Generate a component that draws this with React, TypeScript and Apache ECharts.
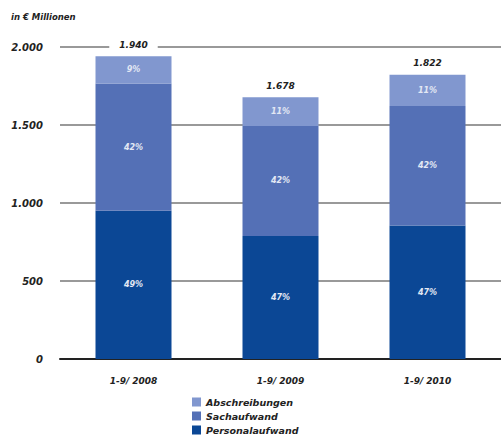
import React, { useEffect, useRef } from "react";
import * as echarts from "echarts";

const categories = ["1-9/ 2008", "1-9/ 2009", "1-9/ 2010"];
const totals = [1940, 1678, 1822];
const personalPct = [49, 47, 47];
const sachPct = [42, 42, 42];
const abschrPct = [9, 11, 11];
const seriesNames = ["Abschreibungen", "Sachaufwand", "Personalaufwand"];
const yTicks = { min: 0, max: 2000, interval: 500 };

const FONT = "'DejaVu Sans', sans-serif";
const colors = { abschr: "#8197cf", sach: "#5470b6", personal: "#0b4795" };

const share = (pct: number[]) => pct.map((p, i) => Math.round((totals[i] * p) / 100));
const personal = share(personalPct);
const sach = share(sachPct);
const abschr = totals.map((t, i) => t - personal[i] - sach[i]);

const fmt = (v: number) => v.toString().replace(/\B(?=(\d{3})+(?!\d))/g, ".");

const bi = {
  fontFamily: FONT,
  fontWeight: "bold" as const,
  fontStyle: "italic" as const,
};

export default function App() {
  const ref = useRef<HTMLDivElement>(null);
  useEffect(() => {
    if (!ref.current) return;
    const chart = echarts.init(ref.current, undefined, { renderer: "svg" });
    const pctLabel = (pct: number[]) => ({
      show: true,
      position: "inside" as const,
      color: "#e3e8f4",
      ...bi,
      fontSize: 8,
      formatter: (p: any) => pct[p.dataIndex] + "%",
    });
    chart.setOption({
      animation: false,
      backgroundColor: "#ffffff",
      graphic: [
        {
          type: "text",
          left: 11,
          top: 12,
          style: {
            text: "in € Millionen",
            ...bi,
            fontSize: 8.5,
            fill: "#222",
          },
        },
      ],
      grid: { left: 60, right: -4, top: 47, bottom: 80, containLabel: false },
      legend: {
        orient: "vertical",
        left: 192,
        top: 396,
        height: 43,
        padding: 0,
        itemWidth: 9,
        itemHeight: 9,
        itemGap: 2,
        icon: "rect",
        data: seriesNames,
        textStyle: {
          ...bi,
          fontSize: 9.5,
          color: "#222",
          lineHeight: 12,
        },
      },
      xAxis: {
        type: "category",
        data: categories,
        axisTick: { show: false },
        axisLine: { lineStyle: { color: "#222", width: 2 } },
        axisLabel: {
          margin: 17,
          ...bi,
          fontSize: 9,
          color: "#222",
        },
      },
      yAxis: {
        type: "value",
        min: yTicks.min,
        max: yTicks.max,
        interval: yTicks.interval,
        axisLine: { show: false },
        axisTick: { show: false },
        splitLine: { lineStyle: { color: "#777", width: 1.5 } },
        axisLabel: {
          margin: 17,
          formatter: (v: number) => fmt(v),
          ...bi,
          fontSize: 10,
          color: "#222",
        },
      },
      series: [
        {
          name: "Personalaufwand",
          type: "bar",
          stack: "k",
          barWidth: 76,
          data: personal,
          itemStyle: { color: colors.personal },
          label: pctLabel(personalPct),
        },
        {
          name: "Sachaufwand",
          type: "bar",
          stack: "k",
          data: sach,
          itemStyle: { color: colors.sach },
          label: pctLabel(sachPct),
        },
        {
          name: "Abschreibungen",
          type: "bar",
          stack: "k",
          data: abschr,
          itemStyle: { color: colors.abschr },
          label: pctLabel(abschrPct),
        },
        {
          name: "Summe",
          type: "bar",
          stack: "k",
          data: totals.map(() => 0),
          itemStyle: { color: "transparent" },
          tooltip: { show: false },
          label: {
            show: true,
            position: "top",
            distance: 6,
            formatter: (p: any) => fmt(totals[p.dataIndex]),
            backgroundColor: "#ffffff",
            padding: [1, 10],
            ...bi,
            fontSize: 9,
            color: "#222",
          },
        },
      ],
    });
    return () => chart.dispose();
  }, []);
  return (
    <div
      ref={ref}
      style={{ position: "fixed", left: 0, top: 0, width: 501, height: 439 }}
    />
  );
}
